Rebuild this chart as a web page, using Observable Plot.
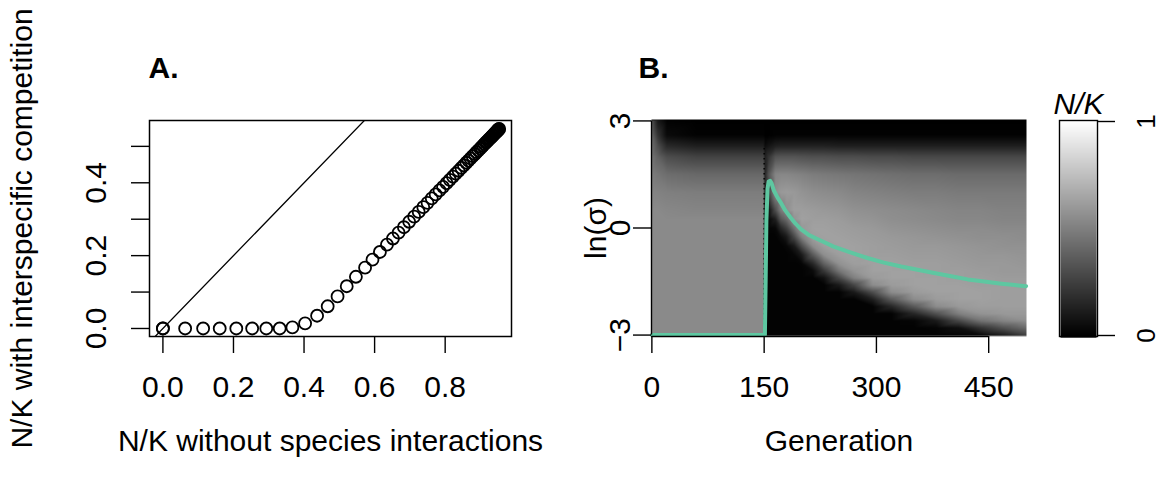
<!DOCTYPE html>
<html><head><meta charset="utf-8">
<script src="https://cdn.jsdelivr.net/npm/d3@7"></script>
<script src="https://cdn.jsdelivr.net/npm/@observablehq/plot@0.6"></script>
<style>
body{margin:0;background:#fff;}
#wrap{position:relative;width:1161px;height:480px;overflow:hidden;background:#fff;}
#wrap > svg{position:absolute;top:0;}
</style></head><body><div id="wrap"></div>
<script>
// ---------- Panel A data ----------
const nkWithout = [0, 0, 0.063, 0.114, 0.161, 0.208, 0.253, 0.293, 0.331, 0.367, 0.403, 0.437, 0.467, 0.495, 0.521, 0.547, 0.573, 0.594, 0.615, 0.635, 0.652, 0.668, 0.683, 0.698, 0.712, 0.725, 0.738, 0.750, 0.762, 0.773, 0.784, 0.794, 0.804, 0.813, 0.822, 0.830, 0.838, 0.846, 0.853, 0.860, 0.866, 0.872, 0.878, 0.884, 0.889, 0.894, 0.899, 0.903, 0.907, 0.911, 0.915, 0.918, 0.921, 0.924, 0.927, 0.930, 0.932, 0.934, 0.936, 0.938, 0.940, 0.942, 0.944, 0.945, 0.947, 0.948, 0.949, 0.950, 0.951, 0.952, 0.953];
const nkWith = [0, 0, 0, 0, 0, 0, 0, 0, 0, 0.003, 0.014, 0.035, 0.061, 0.088, 0.116, 0.142, 0.167, 0.189, 0.210, 0.230, 0.247, 0.263, 0.278, 0.293, 0.307, 0.320, 0.333, 0.345, 0.357, 0.368, 0.379, 0.389, 0.399, 0.408, 0.417, 0.425, 0.433, 0.441, 0.448, 0.455, 0.461, 0.467, 0.473, 0.479, 0.484, 0.489, 0.494, 0.498, 0.502, 0.506, 0.510, 0.513, 0.516, 0.519, 0.522, 0.525, 0.527, 0.529, 0.531, 0.533, 0.535, 0.537, 0.539, 0.540, 0.542, 0.543, 0.544, 0.545, 0.546, 0.547, 0.548];
const xTicksA = [0, 0.2, 0.4, 0.6, 0.8];
const yTickMarksA = [0, 0.1, 0.2, 0.3, 0.4, 0.5];
const yTickLabelsA = [0, 0.2, 0.4];
const identityLine = [{x: -1, y: -1}, {x: 2, y: 2}]; // abline(0, 1)

// ---------- Panel B data ----------
const lnSigmaRows = [-3, -2.8, -2.6, -2.4, -2.2, -2.0, -1.8, -1.6, -1.4, -1.2, -1.0, -0.75, -0.5, -0.25, 0, 0.25, 0.5, 1, 1.5, 2, 2.3, 2.6, 3];
const genCols = [0, 8, 20, 60, 149, 151, 156, 165, 172, 180, 190, 200, 215, 230, 250, 270, 295, 320, 350, 380, 410, 440, 470, 500];
// N/K: one array per generation column, values follow lnSigmaRows
const nkByGen = [
  [.54,.54,.54,.54,.54,.54,.54,.54,.54,.54,.54,.54,.54,.54,.54,.54,.54,.52,.49,.45,.42,.38,.32],
  [.54,.54,.54,.54,.54,.54,.54,.54,.54,.54,.54,.54,.54,.54,.54,.54,.54,.51,.46,.38,.30,.20,.10],
  [.54,.54,.54,.54,.54,.54,.54,.54,.54,.54,.54,.54,.54,.54,.54,.54,.53,.50,.43,.30,.16,.04,.01],
  [.54,.54,.54,.54,.54,.54,.54,.54,.54,.54,.54,.54,.54,.54,.54,.54,.52,.49,.41,.26,.12,.01,0],
  [.54,.54,.54,.54,.54,.54,.54,.54,.54,.54,.54,.54,.54,.54,.54,.54,.52,.49,.41,.26,.12,.01,0],
  [.01,.01,.01,.01,.01,.01,.01,.01,.01,.01,.01,.01,.01,.01,.02,.03,.05,.10,.14,.12,.05,0,0],
  [.01,.01,.01,.01,.01,.01,.01,.01,.01,.01,.01,.01,.01,.01,.02,.03,.06,.25,.33,.20,.08,0,0],
  [.01,.01,.01,.01,.01,.01,.01,.01,.01,.01,.01,.01,.01,.01,.03,.12,.30,.56,.52,.32,.12,.01,0],
  [.01,.01,.01,.01,.01,.01,.01,.01,.01,.01,.01,.01,.01,.04,.15,.33,.48,.60,.53,.33,.13,.01,0],
  [.01,.01,.01,.01,.01,.01,.01,.01,.01,.01,.01,.01,.03,.10,.25,.42,.56,.61,.53,.33,.13,.01,0],
  [.01,.01,.01,.01,.01,.01,.01,.01,.01,.01,.01,.03,.10,.28,.45,.58,.62,.60,.52,.33,.13,.01,0],
  [.01,.01,.01,.01,.01,.01,.01,.01,.01,.01,.02,.10,.30,.50,.60,.63,.62,.58,.51,.32,.13,.01,0],
  [.01,.01,.01,.01,.01,.01,.01,.01,.01,.04,.15,.35,.55,.62,.63,.62,.61,.56,.49,.31,.13,.01,0],
  [.01,.01,.01,.01,.01,.01,.01,.01,.07,.22,.38,.56,.62,.63,.63,.62,.60,.55,.48,.31,.13,.01,0],
  [.01,.01,.01,.01,.01,.01,.01,.10,.28,.46,.57,.62,.63,.63,.62,.61,.59,.54,.47,.30,.12,.01,0],
  [.01,.01,.01,.01,.01,.01,.10,.27,.50,.58,.62,.63,.63,.62,.61,.59,.57,.52,.46,.30,.12,.01,0],
  [.01,.01,.01,.01,.01,.12,.30,.55,.61,.63,.63,.62,.62,.61,.60,.58,.56,.51,.45,.29,.12,.01,0],
  [.01,.01,.01,.01,.15,.35,.55,.61,.63,.63,.63,.62,.61,.60,.58,.56,.55,.50,.44,.29,.12,.01,0],
  [.01,.01,.02,.15,.35,.55,.61,.63,.63,.63,.62,.61,.60,.59,.57,.55,.54,.49,.43,.28,.12,.01,0],
  [.01,.02,.10,.32,.55,.61,.63,.63,.63,.62,.62,.61,.60,.58,.56,.54,.53,.49,.43,.28,.12,.01,0],
  [.02,.06,.28,.50,.60,.63,.63,.63,.62,.62,.61,.60,.59,.57,.55,.53,.52,.48,.42,.28,.12,.01,0],
  [.04,.20,.45,.58,.62,.63,.63,.62,.62,.61,.60,.59,.58,.56,.55,.53,.52,.48,.42,.28,.12,.01,0],
  [.12,.32,.52,.60,.62,.62,.62,.62,.61,.60,.60,.59,.57,.56,.54,.52,.51,.48,.42,.28,.12,.01,0],
  [.25,.42,.56,.60,.62,.62,.62,.61,.61,.60,.59,.58,.57,.55,.54,.52,.51,.48,.42,.28,.12,.01,0]
];
const meanGen = [0, 151, 152, 153, 154.5, 156, 158, 160, 163, 168, 172, 178, 185, 192, 199, 210, 221, 243, 265, 288, 310, 333, 355, 377, 400, 422, 444, 467, 485, 500];
const meanLnSigma = [-3, -3, -1.5, 0.2, 1.1, 1.3, 1.32, 1.25, 1.05, 0.85, 0.72, 0.5, 0.3, 0.12, -0.03, -0.2, -0.31, -0.52, -0.68, -0.84, -0.97, -1.08, -1.17, -1.26, -1.35, -1.44, -1.5, -1.56, -1.6, -1.63];
const shiftGen = [150];
const xTicksB = [0, 150, 300, 450];
const yTicksB = [-3, 0, 3];
const barTicks = [0, 1];

// ---------- shared styling ----------
const FS = 30;
const FONT = '"Liberation Sans", Arial, Helvetica, sans-serif';
const style = {fontFamily: FONT, fontSize: FS + "px", background: "white", overflow: "visible", color: "black"};
const colorScale = {type: "linear", domain: [0, 1], range: ["black", "white"], interpolate: "rgb"};
const TEAL = "#5ec7a1";
const fmt1 = d3.format(".1f");
const minusFmt = d => (d < 0 ? "\u2212" + Math.abs(d) : String(d));

const wrap = document.getElementById("wrap");

// ---------- Panel A ----------
const ptsA = nkWithout.map((x, i) => ({x, y: nkWith[i]}));
const plotA = Plot.plot({
  width: 580, height: 480,
  marginLeft: 149, marginRight: 69, marginTop: 120, marginBottom: 144,
  style,
  x: {domain: [-0.038, 0.988]},
  y: {domain: [-0.022, 0.571]},
  marks: [
    Plot.line(identityLine, {x: "x", y: "y", stroke: "black", strokeWidth: 1.3, clip: true}),
    Plot.dot(ptsA, {x: "x", y: "y", r: 6, stroke: "black", strokeWidth: 1.8, fill: "none"}),
    Plot.frame({stroke: "black", strokeWidth: 1.5}),
    Plot.axisX({ticks: xTicksA, tickSize: 17, tickPadding: 22, tickFormat: fmt1, fontSize: FS, strokeWidth: 1.4, label: null}),
    Plot.axisY({ticks: yTickMarksA, tickSize: 18, tickFormat: () => "", strokeWidth: 1.4, label: null}),
    Plot.text(yTickLabelsA, {y: d => d, text: d => fmt1(d), frameAnchor: "left", dx: -53, rotate: -90, fontSize: FS, textAnchor: "middle", lineAnchor: "middle"}),
    Plot.text(["N/K without species interactions"], {frameAnchor: "bottom", dy: 105, fontSize: FS, textAnchor: "middle", lineAnchor: "middle"}),
    Plot.text(["N/K with interspecific competition"], {frameAnchor: "left", dx: -127, rotate: -90, fontSize: FS, textAnchor: "middle", lineAnchor: "middle"}),
    Plot.text(["A."], {frameAnchor: "top-left", dx: -1, dy: -52, fontSize: FS, fontWeight: "bold", textAnchor: "start", lineAnchor: "middle"})
  ]
});
plotA.style.left = "0px";
wrap.appendChild(plotA);

// ---------- Panel B ----------
const gridData = [];
genCols.forEach((g, j) => lnSigmaRows.forEach((s, i) => gridData.push({g, s, v: nkByGen[j][i]})));
const meanLine = meanGen.map((g, i) => ({g, s: meanLnSigma[i]}));
const plotB = Plot.plot({
  width: 460, height: 480,
  marginLeft: 71, marginRight: 14, marginTop: 119, marginBottom: 144,
  style,
  x: {domain: [-0.5, 500.5]},
  y: {domain: [-3.04, 3.04]},
  color: colorScale,
  marks: [
    Plot.raster(gridData, {x: "g", y: "s", fill: "v", interpolate: "barycentric", x1: -0.5, x2: 500.5, y1: -3.04, y2: 3.04}),
    Plot.ruleX(shiftGen, {y1: -3, y2: 2.3, stroke: "black", strokeWidth: 1.4, strokeDasharray: "1.5,3.5"}),
    Plot.line(meanLine, {x: "g", y: "s", stroke: TEAL, strokeWidth: 4, strokeLinejoin: "round"}),
    Plot.ruleY([-3.04], {x1: 0, x2: 450, stroke: "black", strokeWidth: 1.4}),
    Plot.ruleX([-0.5], {y1: -3, y2: 3, stroke: "black", strokeWidth: 1.4}),
    Plot.axisX({ticks: xTicksB, tickSize: 17, tickPadding: 22, fontSize: FS, strokeWidth: 1.4, label: null}),
    Plot.axisY({ticks: yTicksB, tickSize: 18, tickFormat: () => "", strokeWidth: 1.4, label: null}),
    Plot.text(yTicksB, {y: d => d, text: minusFmt, frameAnchor: "left", dx: -31, rotate: -90, fontSize: FS, textAnchor: "middle", lineAnchor: "middle"}),
    Plot.text(["ln(σ)"], {frameAnchor: "left", dx: -55, rotate: -90, fontSize: FS, textAnchor: "middle", lineAnchor: "middle"}),
    Plot.text(["Generation"], {frameAnchor: "bottom", dy: 105, fontSize: FS, textAnchor: "middle", lineAnchor: "middle"}),
    Plot.text(["B."], {frameAnchor: "top-left", dx: -13, dy: -51, fontSize: FS, fontWeight: "bold", textAnchor: "start", lineAnchor: "middle"})
  ]
});
plotB.style.left = "580px";
wrap.appendChild(plotB);

// ---------- Colour bar ----------
const plotC = Plot.plot({
  width: 121, height: 480,
  marginLeft: 20, marginRight: 65, marginTop: 121, marginBottom: 145,
  style,
  x: {domain: [0, 1], axis: null},
  y: {domain: [0, 1], axis: null},
  color: colorScale,
  marks: [
    Plot.raster({fill: (x, y) => y, x1: 0, x2: 1, y1: -0.01, y2: 1.01}),
    Plot.frame({stroke: "black", strokeWidth: 1.4, inset: -1}),
    Plot.axisY({anchor: "right", ticks: barTicks, tickSize: 18, tickFormat: () => "", strokeWidth: 1.4, label: null}),
    Plot.text(barTicks, {y: d => d, text: d => String(d), frameAnchor: "right", dx: 50, rotate: -90, fontSize: 26, textAnchor: "middle", lineAnchor: "middle"}),
    Plot.text(["N/K"], {frameAnchor: "top", dy: -17, fontSize: FS, fontStyle: "italic", textAnchor: "middle", lineAnchor: "middle"})
  ]
});
plotC.style.left = "1040px";
wrap.appendChild(plotC);
</script></body></html>
